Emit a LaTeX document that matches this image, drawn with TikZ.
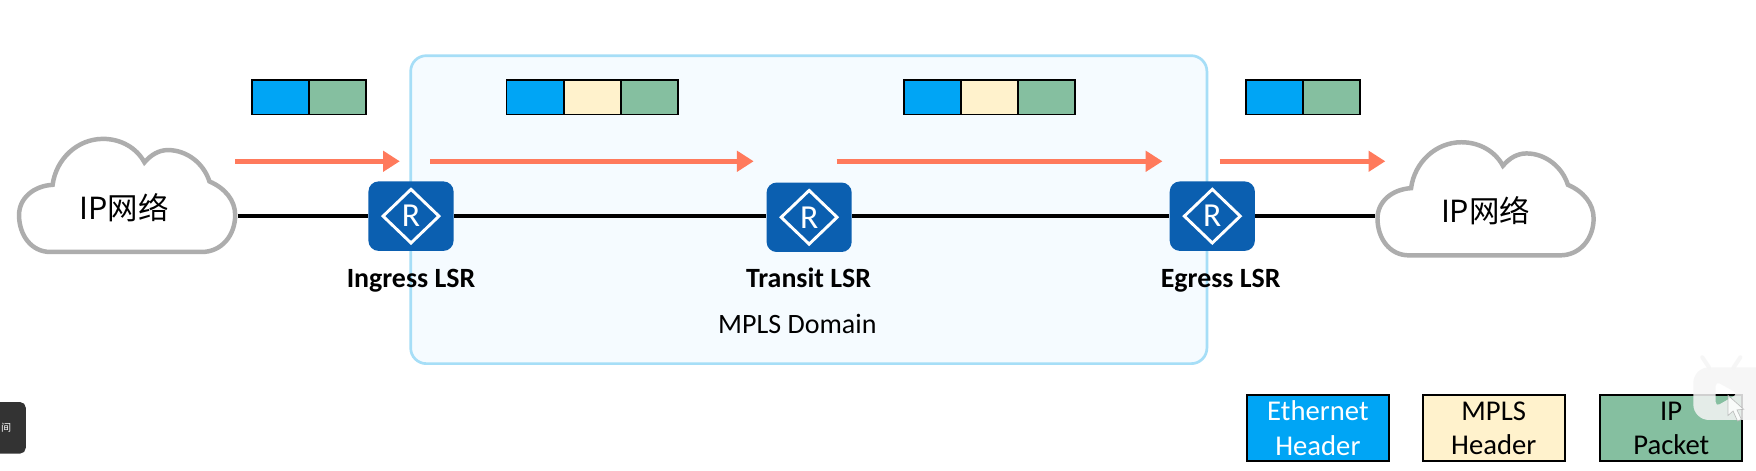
\documentclass[tikz,border=0pt]{standalone}
\usepackage{fontspec}
\setmainfont{Carlito}
\newfontfamily\cjk{Noto Sans CJK SC}
\usetikzlibrary{arrows.meta,shapes.geometric}
\definecolor{ethc}{HTML}{00A5F5}
\definecolor{mplsc}{HTML}{FFF2CC}
\definecolor{ipc}{HTML}{85BFA0}
\definecolor{arrowc}{HTML}{FF7A5C}
\definecolor{cloudc}{HTML}{ADADAD}
\definecolor{domb}{HTML}{A6DEF7}
\definecolor{domf}{HTML}{F5FBFF}
\definecolor{routerc}{HTML}{0B5FB0}
\tikzset{
  x=0.5pt,y=-0.5pt,
  cell/.style={draw=black,line width=0.8pt,inner sep=0,minimum width=25.4pt,minimum height=15.5pt,anchor=north west},
  eth/.style={cell,fill=ethc},
  mpls/.style={cell,fill=mplsc},
  ipk/.style={cell,fill=ipc},
  legend/.style={draw=black,line width=0.8pt,inner sep=0,minimum width=63.5pt,minimum height=29.5pt,anchor=north west,align=center,font=\fontsize{12.8}{15.2}\selectfont},
  flow/.style={arrowc,line width=2.2pt,-{Triangle[length=7.5pt,width=9pt]}},
  link/.style={black,line width=1.5pt},
  cloudshape/.style={draw=cloudc,line width=2pt,fill=white},
  cloudanchor/.style={inner sep=0,minimum width=98.5pt,minimum height=10pt},
  cloudtext/.style={inner sep=0,font=\fontsize{13.6}{16}\selectfont\cjk},
  router/.style={fill=routerc,rounded corners=4.5pt,inner sep=0,minimum width=38pt,minimum height=31pt},
  rdia/.style={diamond,draw=white,line width=1.3pt,inner sep=0,minimum width=25.5pt,minimum height=24.5pt,aspect=1,text=white,font=\fontsize{15}{17}\selectfont},
  rlabel/.style={font=\fontsize{12.45}{14}\selectfont\bfseries,inner sep=0,anchor=base},
}
\newcommand{\cloudpath}{(45,225) .. controls (28,225) and (17,210) .. (17,192) .. controls (17,177) and (30,166) .. (47,165) .. controls (50,142) and (69,124) .. (92,124) .. controls (108,124) and (122,132) .. (129,145) .. controls (135,138) and (142,134) .. (150,134) .. controls (167,134) and (182,146) .. (187,162) .. controls (201,168) and (210,179) .. (210,192) .. controls (210,210) and (198,225) .. (180,225) -- cycle}
\begin{document}
\begin{tikzpicture}
\useasboundingbox (0,0) rectangle (1568,419.7);
\fill[white] (0,0) rectangle (1568,419.7);
% domain
\node[draw=domb,fill=domf,line width=1.2pt,rounded corners=7pt,inner sep=0,minimum width=355.5pt,minimum height=137.5pt,anchor=north west] (domain) at (365.5,48.5) {};
\node[font=\fontsize{12.5}{14}\selectfont,inner sep=0,anchor=base] (domlabel) at (712,297.5) {MPLS Domain};
% clouds
\draw[cloudshape] \cloudpath;
\node[cloudanchor] (cloudL) at (113.5,193) {};
\node[cloudtext] (cloudLt) at (111,185.5) {IP网络};
\begin{scope}[shift={(1213pt*0.5,-3pt*0.5)}]
\draw[cloudshape] \cloudpath;
\node[cloudanchor] (cloudR) at (113.5,196) {};
\node[cloudtext] (cloudRt) at (113.5,185.5) {IP网络};
\end{scope}
% routers
\foreach \n/\cx/\cy in {r1/367/193,r2/722.5/194,r3/1082.5/193}{
  \node[router] (\n) at (\cx,\cy) {};
  \node[rdia] (\n d) at (\cx,\cy) {R};
}
\node[rlabel] (l1) at (367,256.5) {Ingress LSR};
\node[rlabel] (l2) at (722,256.5) {Transit LSR};
\node[rlabel] (l3) at (1090,256.5) {Egress LSR};
% links
\draw[link] (cloudL.east) -- (r1.west);
\draw[link] (r1.east) -- (r1.east -| r2.west);
\draw[link] (r2.east |- r3.west) -- (r3.west);
\draw[link] (r3.east) -- (r3.east -| cloudR.west);
% flow arrows
\coordinate (a1) at (210,144); \coordinate (b1) at (357,144);
\coordinate (a2) at (384,144); \coordinate (b2) at (673,144);
\coordinate (a3) at (747,144); \coordinate (b3) at (1038,144);
\coordinate (a4) at (1089,144); \coordinate (b4) at (1237,144);
\draw[flow] (a1) -- (b1);
\draw[flow] (a2) -- (b2);
\draw[flow] (a3) -- (b3);
\draw[flow] (a4) -- (b4);
% packets
\node[eth] (p1a) at (224.5,70.5) {}; \node[ipk] (p1b) at (275,70.5) {};
\node[eth] (p2a) at (451.5,70.5) {}; \node[mpls] (p2b) at (502.5,70.5) {}; \node[ipk] (p2c) at (553.5,70.5) {};
\node[eth] (p3a) at (806.5,70.5) {}; \node[mpls] (p3b) at (857.5,70.5) {}; \node[ipk] (p3c) at (908,70.5) {};
\node[eth] (p4a) at (1112,70.5) {}; \node[ipk] (p4b) at (1163,70.5) {};
% legend
\node[legend,fill=ethc,text=white] (le) at (1112.5,352) {Ethernet\\Header};
\node[legend,fill=mplsc] (lm) at (1269.5,352) {MPLS\\Header};
\node[legend,fill=ipc] (li) at (1428,352) {IP\\Packet};
% tooltip fragment at the left edge
\fill[black!80,rounded corners=2.5pt] (-20,359) rectangle (23,405);
\node[text=white,font=\cjk\fontsize{4.5}{6}\selectfont,inner sep=0] (tip) at (5.5,382) {间};
% player overlay
\begin{scope}
\clip (1500,310) rectangle (1568,419.7);
\fill[even odd rule,fill=white!96!black,opacity=.85]
  [rounded corners=7pt] (1512,328) rectangle (1590,375)
  [rounded corners=2pt] (1532,340.5) -- (1552,351.5) -- (1532,363) -- cycle;
\draw[white!96!black,opacity=.85,line width=1.8pt,line cap=round] (1526,328) -- (1520,319) (1548,328) -- (1554,319);
\fill[white,opacity=.8,draw=black!30,line width=.3pt] (1543,353) -- (1543,371) -- (1547.5,367) -- (1551.5,376) -- (1555,374.5) -- (1551,366) -- (1557,365.5) -- cycle;
\end{scope}
\end{tikzpicture}
\end{document}
